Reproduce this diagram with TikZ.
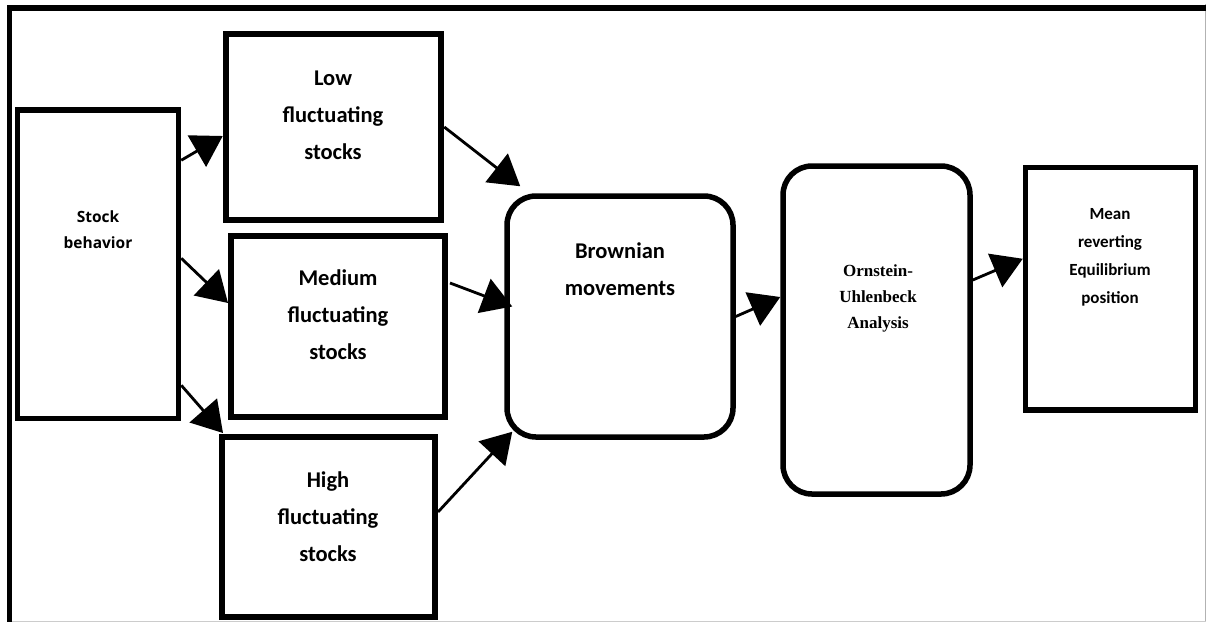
\documentclass[tikz,border=0pt]{standalone}
\usepackage{fontspec}
\setmainfont{Carlito}
\newfontfamily\osfont{Open Sans}
\newfontfamily\serfont{Liberation Serif}
\usetikzlibrary{arrows.meta}
\begin{document}
\begin{tikzpicture}[x=1pt,y=-1pt,
  box/.style={draw, line width=6pt, inner sep=0pt},
  rbox/.style={draw, line width=5.5pt, rounded corners=29pt, inner sep=0pt},
  bigtxt/.style={align=center, font=\fontsize{22.5}{37}\selectfont\bfseries},
  midtxt/.style={align=center, font=\fontsize{17}{28}\selectfont\bfseries},
  stocktxt/.style={align=center, font=\osfont\fontsize{15.5}{26}\selectfont\bfseries},
  serftxt/.style={align=center, font=\serfont\fontsize{17}{26}\selectfont\bfseries},
  conn/.style={line width=2.8pt, -{Triangle[length=30pt,width=36pt]}}]
\useasboundingbox (0,0) rectangle (1206,622);
\fill[white] (0,0) rectangle (1206,622);
% outer frame
\draw[gray!60, line width=0.8pt] (1205,4) -- (1205,622);
\draw[gray!40, line width=0.8pt] (7,621) -- (1206,621);
\draw[line width=6pt] (7,8) -- (1206,8);
\draw[line width=5pt] (9.5,5) -- (9.5,622);
% boxes
\node[box, line width=5.5pt, minimum width=161pt, minimum height=308.5pt] (stock) at (98,264.25) {};
\node[box, line width=6.5pt, minimum width=215pt, minimum height=186pt] (low) at (333.5,127) {};
\node[box, minimum width=214pt, minimum height=181pt] (med) at (338,326.5) {};
\node[box, minimum width=213pt, minimum height=180pt] (high) at (328.5,527) {};
\node[rbox, minimum width=226pt, minimum height=241pt] (brown) at (620,316.5) {};
\node[rbox, minimum width=187pt, minimum height=328pt] (orn) at (876.5,330) {};
\node[box, line width=5.5pt, minimum width=170pt, minimum height=242.5pt] (mean) at (1110.5,288.75) {};
% texts
\node[stocktxt] (tstock) at (98,230) {Stock\\behavior};
\node[bigtxt] (tlow) at (333,115) {Low\\fluctuating\\stocks};
\node[bigtxt] (tmed) at (338,315) {Medium\\fluctuating\\stocks};
\node[bigtxt] (thigh) at (328,517) {High\\fluctuating\\stocks};
\node[bigtxt] (tbrown) at (620,269) {Brownian\\movements};
\node[serftxt] (torn) at (878,298) {Ornstein-\\Uhlenbeck\\Analysis};
\node[midtxt] (tmean) at (1110,257) {Mean\\reverting\\Equilibrium\\position};
% connectors
\draw[conn] ([yshift=104pt]stock.east) -- ([yshift=-9pt]low.west);
\draw[conn] ([yshift=6pt]stock.east) -- ([yshift=23.5pt]med.west);
\draw[conn] ([yshift=-121pt]stock.east) -- ([xshift=4pt,yshift=1pt]high.north west);
\draw[conn] (low.east) -- ([xshift=16pt,yshift=7pt]brown.north west);
\draw[conn] ([xshift=2pt,yshift=43.5pt]med.east) -- ([xshift=8pt,yshift=10pt]brown.west);
\draw[conn] ([yshift=15pt]high.east) -- ([xshift=8pt,yshift=8pt]brown.south west);
\draw[conn] (brown.east) -- ([yshift=33pt]orn.west);
\draw[conn] ([yshift=50pt]orn.east) -- ([yshift=30pt]mean.west);
\end{tikzpicture}
\end{document}
